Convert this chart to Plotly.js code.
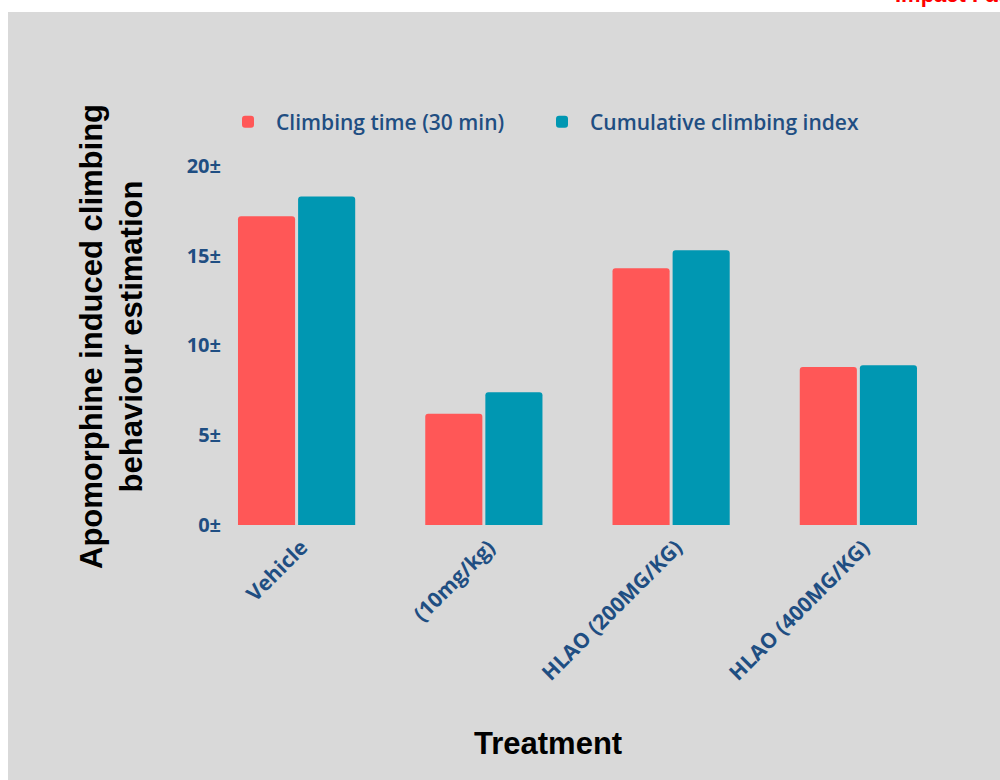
<!DOCTYPE html>
<html>
<head>
<meta charset="utf-8">
<script src="https://cdn.plot.ly/plotly-3.0.1.min.js"></script>
<style>html,body{margin:0;padding:0;background:#fff;}#chart{width:1000px;height:780px;}</style>
</head>
<body>
<div id="chart"></div>
<script>
const categories = ["Vehicle", "(10mg/kg)", "HLAO (200MG/KG)", "HLAO (400MG/KG)"];
const climbingTime = [17.2, 6.2, 14.3, 8.8];
const cumulativeIndex = [18.3, 7.4, 15.3, 8.9];
const yTickValues = [0, 5, 10, 15, 20];
const yTickLabels = ["0±", "5±", "10±", "15±", "20±"];
const seriesNames = ["Climbing time (30 min)", "Cumulative climbing index"];

const W = 1000, H = 780;
const M = {l: 226, r: 48, t: 148, b: 255};
const pw = W - M.l - M.r, ph = H - M.t - M.b;
const px = x => (x - M.l) / pw;
const py = y => (H - M.b - y) / ph;

const tickColor = '#1f4e82';
const legendFont = {family: 'Open Sans', size: 21, color: tickColor, weight: 600};

const traces = [
  {type: 'bar', name: seriesNames[0], x: categories, y: climbingTime, legend: 'legend',
   marker: {color: '#ff5757', cornerradius: 3}, hoverinfo: 'x+y'},
  {type: 'bar', name: seriesNames[1], x: categories, y: cumulativeIndex, legend: 'legend2',
   marker: {color: '#0097b2', cornerradius: 3}, hoverinfo: 'x+y'}
];

const layout = {
  width: W, height: H,
  margin: M,
  paper_bgcolor: '#ffffff',
  plot_bgcolor: 'rgba(0,0,0,0)',
  barmode: 'group',
  bargap: 0.358,
  bargroupgap: 0.05,
  showlegend: true,
  legend: {orientation: 'h', x: px(220), xanchor: 'left', y: py(122), yanchor: 'middle',
           font: legendFont, itemwidth: 46, bgcolor: 'rgba(0,0,0,0)'},
  legend2: {orientation: 'h', x: px(534), xanchor: 'left', y: py(122), yanchor: 'middle',
           font: legendFont, itemwidth: 46, bgcolor: 'rgba(0,0,0,0)'},
  xaxis: {type: 'category', range: [-0.377, 3.5], autorange: false,
          showgrid: false, zeroline: false, showline: false, ticks: '',
          ticklabelstandoff: 5, ticklabelshift: 5,
          tickangle: -45, tickfont: {family: 'Open Sans', size: 21, color: tickColor, weight: 700}},
  yaxis: {range: [0, 21], autorange: false, tickmode: 'array', tickvals: yTickValues, ticktext: yTickLabels,
          showgrid: false, zeroline: false, showline: false, ticks: '', ticklabelstandoff: 4,
          tickfont: {family: 'Open Sans', size: 20, color: tickColor, weight: 700},
          title: {text: 'Apomorphine induced climbing<br>behaviour estimation', standoff: 34,
                  font: {family: 'Liberation Sans', size: 31, color: '#000', weight: 700}}},
  shapes: [
    {type: 'rect', xref: 'paper', yref: 'paper', layer: 'below',
     x0: px(8), x1: px(1000), y0: py(780), y1: py(12),
     fillcolor: '#d9d9d9', line: {width: 0}}
  ],
  annotations: [
    {xref: 'paper', yref: 'paper', x: px(548), y: py(743), xanchor: 'center', yanchor: 'middle',
     text: 'Treatment', showarrow: false,
     font: {family: 'Liberation Sans', size: 31, color: '#000', weight: 700}},
    {xref: 'paper', yref: 'paper', x: px(893), y: py(9), xanchor: 'left', yanchor: 'bottom',
     text: 'Impact Factor', showarrow: false,
     font: {family: 'Liberation Sans', size: 22, color: '#ff0000', weight: 700}}
  ]
};

Plotly.newPlot('chart', traces, layout, {displayModeBar: false, responsive: false});
</script>
</body>
</html>
